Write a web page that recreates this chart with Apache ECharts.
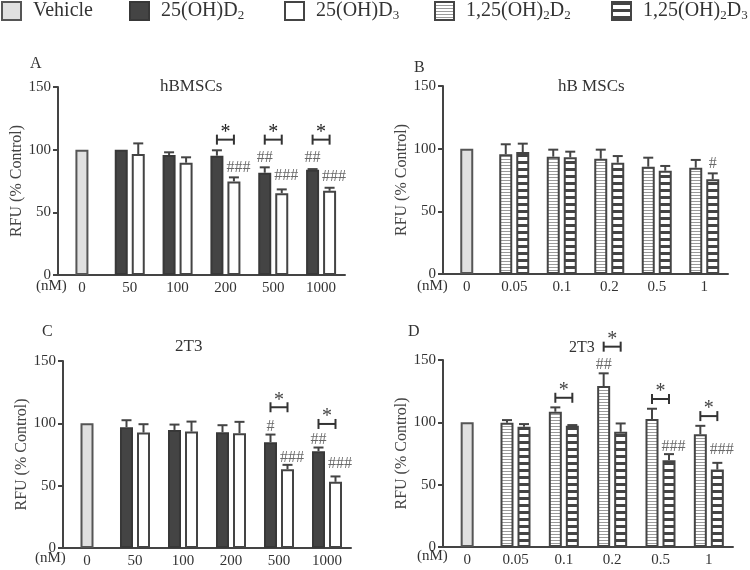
<!DOCTYPE html>
<html><head><meta charset="utf-8">
<script src="https://cdn.jsdelivr.net/npm/echarts/dist/echarts.min.js"></script>
<style>html,body{margin:0;padding:0;background:#fff}#c{width:750px;height:570px}</style>
</head><body><div id="c"></div>
<script>
// ---------- DATA ----------
const dosesA = ['0','50','100','200','500','1000'];       // nM, panels A & C
const dosesB = ['0','0.05','0.1','0.2','0.5','1'];       // nM, panels B & D
const vehicleVals = [100,'-','-','-','-','-'];

// Panel A: hBMSCs, 25(OH)D2 / 25(OH)D3
const A_D2     = ['-',100, 95.7, 95.2, 81.6, 84.0];
const A_D2_sem = ['-',0,   2.2,  4.3,  4.3,  0.5];
const A_D3     = ['-',96.5,89.6, 74.7, 65.3, 67.2];
const A_D3_sem = ['-',8.5, 4.3,  3.2,  3.0,  2.4];
// Panel B: hBMSCs, 1,25(OH)2D2 / 1,25(OH)2D3
const B_D2     = ['-',95.5,93.6, 92.0, 85.6, 84.8];
const B_D2_sem = ['-',8.0, 5.6,  7.2,  7.2,  6.2];
const B_D3     = ['-',97.3,93.1, 88.8, 82.4, 75.5];
const B_D3_sem = ['-',6.7, 4.5,  5.3,  3.8,  4.8];
// Panel C: 2T3, 25(OH)D2 / 25(OH)D3
const C_D2     = ['-',96.9,94.7, 92.9, 84.9, 77.7];
const C_D2_sem = ['-',5.6, 4.3,  5.6,  6.1,  2.9];
const C_D3     = ['-',92.6,93.4, 92.1, 63.2, 53.1];
const C_D3_sem = ['-',6.7, 8.0,  9.1,  3.5,  4.3];
// Panel D: 2T3, 1,25(OH)2D2 / 1,25(OH)2D3
const D_D2     = ['-',99.7,108.5,129.1,102.6,90.5];
const D_D2_sem = ['-',2.1, 3.5,  10.2, 8.3,  6.7];
const D_D3     = ['-',96.4,97.2, 92.4, 69.6, 62.1];
const D_D3_sem = ['-',2.2, 0.6,  6.7,  4.9,  5.4];

// significance brackets: [category index, level]
const A_sig = [[3,108],[4,108],[5,108]];
const B_sig = [];
const C_sig = [[4,112.9],[5,99.5]];
const D_sig = [[2,119.7],[3,160.7],[4,118.7],[5,105]];
// hash marks: [category index, bar (-1 first / 1 second), level, text]
const A_hash = [[3,1,85.3,'###'],[4,-1,93.3,'##'],[4,1,79.2,'###'],[5,-1,93.3,'##'],[5,1,78.7,'###']];
const B_hash = [[5,1,87.8,'#']];
const C_hash = [[4,-1,97.4,'#'],[5,-1,86.7,'##'],[4,1,72.1,'###'],[5,1,67.3,'###']];
const D_hash = [[3,-1,146,'##'],[4,1,80.4,'###'],[5,1,77.7,'###']];

const yTicks = {min:0, max:150, interval:50};
const seriesNames = ['Vehicle','25(OH)D2','25(OH)D3','1,25(OH)2D2','1,25(OH)2D3'];

// ---------- STYLE ----------
const FONT = 'Liberation Serif';
const BW = 13, GAP = 4, OFF = (BW + GAP) / 2;
function stripe(h, band, col) {
  const c = document.createElement('canvas'); c.width = 8; c.height = h;
  const g = c.getContext('2d'); g.fillStyle = '#fff'; g.fillRect(0,0,8,h);
  g.fillStyle = col; g.fillRect(0,0,8,band); return c;
}
const pat1 = {image: stripe(3,1,'#9a9a9a'), repeat:'repeat'};
const pat2 = {image: stripe(7,3,'#444'), repeat:'repeat'};
const styles = {
  'Vehicle':     {color:'#e0e0e0', borderColor:'#555', borderWidth:2},
  '25(OH)D2':    {color:'#444',    borderColor:'#383838', borderWidth:2},
  '25(OH)D3':    {color:'#fff',    borderColor:'#444', borderWidth:2},
  '1,25(OH)2D2': {color:pat1,      borderColor:'#444', borderWidth:2},
  '1,25(OH)2D3': {color:pat2,      borderColor:'#444', borderWidth:2}
};
const legendLabels = {
  'Vehicle':'Vehicle',
  '25(OH)D2':'25(OH)D{s|2}',
  '25(OH)D3':'25(OH)D{s|3}',
  '1,25(OH)2D2':'1,25(OH){s|2}D{s|2}',
  '1,25(OH)2D3':'1,25(OH){s|2}D{s|3}'
};
const legendLeft = [1, 129, 284, 434, 611];

const panels = [
  {grid:{left:58, top:87, width:287, height:188}, cats:dosesA, names:['25(OH)D2','25(OH)D3'],
   d2:A_D2, d2s:A_D2_sem, d3:A_D3, d3s:A_D3_sem, sig:A_sig, hash:A_hash, star:'#222'},
  {grid:{left:443, top:86, width:285, height:188}, cats:dosesB, names:['1,25(OH)2D2','1,25(OH)2D3'],
   d2:B_D2, d2s:B_D2_sem, d3:B_D3, d3s:B_D3_sem, sig:B_sig, hash:B_hash, star:'#444'},
  {grid:{left:63, top:361, width:288, height:187}, cats:dosesA, names:['25(OH)D2','25(OH)D3'],
   d2:C_D2, d2s:C_D2_sem, d3:C_D3, d3s:C_D3_sem, sig:C_sig, hash:C_hash, star:'#444'},
  {grid:{left:443, top:360, width:290, height:187}, cats:dosesB, names:['1,25(OH)2D2','1,25(OH)2D3'],
   d2:D_D2, d2s:D_D2_sem, d3:D_D3, d3s:D_D3_sem, sig:D_sig, hash:D_hash, star:'#444'}
];

const grid = [], xAxis = [], yAxis = [], series = [];
panels.forEach((p, k) => {
  grid.push(Object.assign({outerBoundsMode:'none', containLabel:false}, p.grid));
  xAxis.push({type:'category', gridIndex:k, data:p.cats,
    axisLine:{lineStyle:{color:'#444', width:2}}, axisTick:{show:false},
    axisLabel:{fontFamily:FONT, fontSize:15, color:'#333', margin:6}});
  xAxis.push({type:'category', gridIndex:k, data:p.cats, show:false});
  yAxis.push({type:'value', gridIndex:k, min:yTicks.min, max:yTicks.max, interval:yTicks.interval,
    name:'RFU (% Control)', nameLocation:'middle', nameGap:33,
    nameTextStyle:{fontFamily:FONT, fontSize:16, color:'#444'},
    axisLine:{show:true, lineStyle:{color:'#444', width:2}},
    axisTick:{show:true, length:5, lineStyle:{color:'#444', width:2}},
    splitLine:{show:false},
    axisLabel:{fontFamily:FONT, fontSize:15, color:'#333', margin:7}});
  series.push({type:'bar', name:'Vehicle', xAxisIndex:2*k+1, yAxisIndex:k, data:vehicleVals,
    barWidth:BW, itemStyle:styles['Vehicle'], animation:false});
  series.push({type:'bar', name:p.names[0], xAxisIndex:2*k, yAxisIndex:k, data:p.d2,
    barWidth:BW, barGap:(GAP/BW*100).toFixed(1)+'%', itemStyle:styles[p.names[0]], animation:false});
  series.push({type:'bar', name:p.names[1], xAxisIndex:2*k, yAxisIndex:k, data:p.d3,
    barWidth:BW, barGap:(GAP/BW*100).toFixed(1)+'%', itemStyle:styles[p.names[1]], animation:false});
  // error bars
  const eb = [];
  for (let i = 1; i < p.cats.length; i++) {
    eb.push([i, p.d2[i], p.d2s[i], -1]);
    eb.push([i, p.d3[i], p.d3s[i], 1]);
  }
  series.push({type:'custom', xAxisIndex:2*k, yAxisIndex:k, data:eb, z:5, animation:false,
    encode:{x:0, y:1}, clip:false,
    renderItem:(params, api) => {
      const ci = api.value(0), v = api.value(1), s = api.value(2), side = api.value(3);
      if (!(s > 0.3)) return null;
      const b = api.coord([ci, v]), t = api.coord([ci, v + s]);
      const x = b[0] + side * OFF;
      const st = {stroke:'#444', lineWidth:2};
      return {type:'group', children:[
        {type:'line', shape:{x1:x, y1:b[1], x2:x, y2:t[1]}, style:st},
        {type:'line', shape:{x1:x-5, y1:t[1], x2:x+5, y2:t[1]}, style:st}
      ]};
    }});
  // significance brackets
  if (p.sig.length) series.push({type:'custom', xAxisIndex:2*k, yAxisIndex:k, z:6, animation:false, clip:false,
    data:p.sig.map(d => [d[0], d[1]]), encode:{x:0, y:1},
    renderItem:(params, api) => {
      const c = api.coord([api.value(0), api.value(1)]);
      const x1 = c[0] - OFF, x2 = c[0] + OFF, y = c[1];
      const st = {stroke:'#333', lineWidth:2};
      return {type:'group', children:[
        {type:'line', shape:{x1:x1, y1:y, x2:x2, y2:y}, style:st},
        {type:'line', shape:{x1:x1, y1:y-5, x2:x1, y2:y+5}, style:st},
        {type:'line', shape:{x1:x2, y1:y-5, x2:x2, y2:y+5}, style:st},
        {type:'text', x:c[0], y:y-17, style:{text:'*', fontFamily:FONT, fontSize:20, fill:p.star,
          align:'center', verticalAlign:'top'}}
      ]};
    }});
  // hash marks
  series.push({type:'custom', xAxisIndex:2*k, yAxisIndex:k, z:6, animation:false, clip:false,
    data:p.hash.map(d => [d[0], d[2]]), encode:{x:0, y:1},
    renderItem:(params, api) => {
      const h = p.hash[params.dataIndex];
      const c = api.coord([api.value(0), api.value(1)]);
      const bx = c[0] + h[1] * OFF;
      const left = h[3].length >= 3;
      return {type:'text', x: left ? bx - BW/2 - 1 : bx, y:c[1],
        style:{text:h[3], fontFamily:FONT, fontSize:16, fill:'#6a6a6a',
          align: left ? 'left' : 'center', verticalAlign:'middle'}};
    }});
});

const txt = (t, x, y, size, extra) => Object.assign({type:'text', left:x, top:y,
  style:{text:t, fontFamily:FONT, fontSize:size, fill:'#333'}}, extra || {});

const legend = seriesNames.map((n, i) => ({
  data:[n], left:legendLeft[i], top:1, padding:0, itemWidth:19, itemHeight:18,
  icon:'rect', selectedMode:false,
  formatter: nm => legendLabels[nm],
  textStyle:{fontFamily:FONT, fontSize:20, color:'#333', padding:[0,0,0,7],
    rich:{s:{fontFamily:FONT, fontSize:13, color:'#333', verticalAlign:'bottom', padding:[10,0,0,0]}}}
}));

const option = {
  backgroundColor:'#fff',
  animation:false,
  grid, xAxis, yAxis, series, legend,
  graphic:[
    txt('A', 30, 56, 16), txt('B', 414, 60, 16), txt('C', 42, 324, 16), txt('D', 408, 324, 16),
    txt('hBMSCs', 160, 78, 17), txt('hB MSCs', 558, 78, 17), txt('2T3', 175, 338, 17), txt('2T3', 569, 340, 16),
    txt('(nM)', 36, 279, 15), txt('(nM)', 417, 279, 15), txt('(nM)', 35, 551, 15), txt('(nM)', 417, 549, 15)
  ]
};
const chart = echarts.init(document.getElementById('c'), null, {renderer:'canvas'});
chart.setOption(option);
</script>
</body></html>
